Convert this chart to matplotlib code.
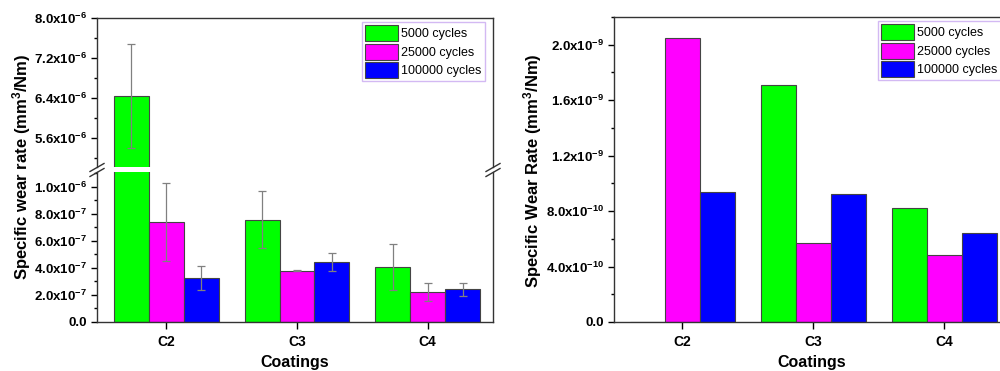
import matplotlib
matplotlib.use('Agg')
import matplotlib.pyplot as plt
import numpy as np
from matplotlib.ticker import FuncFormatter, MultipleLocator
from matplotlib.lines import Line2D

plt.rcParams['font.family'] = ['Liberation Sans', 'DejaVu Sans']
plt.rcParams['mathtext.fontset'] = 'custom'
plt.rcParams['mathtext.rm'] = 'Liberation Sans:bold'
plt.rcParams['mathtext.bf'] = 'Liberation Sans:bold'
plt.rcParams['mathtext.it'] = 'Liberation Sans:bold'
plt.rcParams['mathtext.default'] = 'bf'

coatings = ['C2', 'C3', 'C4']
series = ['5000 cycles', '25000 cycles', '100000 cycles']
colors = ['#00ff00', '#ff00ff', '#0000ff']

# left panel: specific wear rate with error bars
left_5000 = [6.44e-6, 0.758e-6, 0.407e-6]
left_25000 = [0.738e-6, 0.380e-6, 0.222e-6]
left_100000 = [0.324e-6, 0.442e-6, 0.244e-6]
err_5000 = [1.04e-6, 0.21e-6, 0.17e-6]
err_25000 = [0.29e-6, 0.005e-6, 0.068e-6]
err_100000 = [0.09e-6, 0.068e-6, 0.048e-6]

# right panel
right_5000 = [0.0, 1.708e-9, 0.822e-9]
right_25000 = [2.049e-9, 0.572e-9, 0.483e-9]
right_100000 = [0.935e-9, 0.922e-9, 0.639e-9]

left_vals = [left_5000, left_25000, left_100000]
left_errs = [err_5000, err_25000, err_100000]
right_vals = [right_5000, right_25000, right_100000]

x = np.arange(1, len(coatings) + 1)
w = 0.267
offs = [-w, 0, w]


def sci(v, pos):
    if v == 0:
        return '0.0'
    e = int(np.floor(np.log10(abs(v)) + 1e-9))
    m = v / 10 ** e
    return '%.1fx10$^{%d}$' % (m, e)


def style(ax):
    ax.tick_params(direction='out', length=4, width=1, labelsize=9.5)
    ax.tick_params(which='minor', direction='out', length=2.5, width=1)
    for lbl in ax.get_xticklabels() + ax.get_yticklabels():
        lbl.set_fontweight('bold')
    for s in ax.spines.values():
        s.set_linewidth(1.0)
        s.set_color('#333333')


fig = plt.figure(figsize=(10, 3.71), dpi=100)
W, H = 1000, 371

# left panel, broken axis
axt = fig.add_axes([97 / W, 1 - 167 / H, 396 / W, 149 / H])
axb = fig.add_axes([97 / W, 1 - 322 / H, 396 / W, 150 / H])
for ax in (axt, axb):
    for i in range(3):
        ax.bar(x + offs[i], left_vals[i], w, color=colors[i], edgecolor='#444444',
               linewidth=0.8, label=series[i], zorder=2)
        ax.errorbar(x + offs[i], left_vals[i], yerr=left_errs[i], fmt='none',
                    ecolor='#808080', elinewidth=0.9, capsize=3, capthick=0.9, zorder=3)
    ax.set_xlim(0.47, 3.5)

axt.set_ylim(5.02e-6, 8.0e-6)
axt.yaxis.set_major_locator(MultipleLocator(0.8e-6))
axt.yaxis.set_minor_locator(MultipleLocator(0.4e-6))
axt.yaxis.set_major_formatter(FuncFormatter(sci))
axt.spines['bottom'].set_visible(False)
axt.set_xticks([])

axb.set_ylim(0, 1.11e-6)
axb.yaxis.set_major_locator(MultipleLocator(0.2e-6))
axb.yaxis.set_minor_locator(MultipleLocator(0.1e-6))
axb.yaxis.set_major_formatter(FuncFormatter(sci))
axb.spines['top'].set_visible(False)
axb.set_xticks(x)
axb.set_xticklabels(coatings)
axb.set_xlabel('Coatings', fontsize=11.5, fontweight='bold', labelpad=5)

style(axt)
style(axb)
axb.tick_params(axis='x', length=5, pad=4, labelsize=10)

# break marks
for xb in (97 / W, 493 / W):
    yb = 1 - 170 / H
    for d in (-2.5, 2.5):
        fig.add_artist(Line2D([xb - 7 / W, xb + 7 / W],
                              [yb + (d - 4) / H, yb + (d + 4) / H],
                              color='#333333', lw=1.0))

fig.text(22 / W, 1 - 167 / H, 'Specific wear rate (mm$^{3}$/Nm)', rotation=90,
         ha='center', va='center', fontsize=12, fontweight='bold')

leg = axt.legend(loc='upper left', bbox_to_anchor=(362 / W, 1 - 22 / H),
                 bbox_transform=fig.transFigure, fontsize=9, frameon=True,
                 fancybox=False, handlelength=2.6, handleheight=1.6,
                 handletextpad=0.3, labelspacing=0.2, borderpad=0.25,
                 borderaxespad=0)
leg.get_frame().set_edgecolor('#c8a8f0')
leg.get_frame().set_linewidth(1.0)

# right panel
axr = fig.add_axes([614 / W, 1 - 322 / H, 396 / W, 305 / H])
for i in range(3):
    axr.bar(x + offs[i], right_vals[i], w, color=colors[i], edgecolor='#444444',
            linewidth=0.8, label=series[i], zorder=2)
axr.set_xlim(0.48, 3.5)
axr.set_ylim(0, 2.2e-9)
axr.yaxis.set_major_locator(MultipleLocator(0.4e-9))
axr.yaxis.set_minor_locator(MultipleLocator(0.2e-9))
axr.yaxis.set_major_formatter(FuncFormatter(sci))
axr.set_xticks(x)
axr.set_xticklabels(coatings)
axr.set_xlabel('Coatings', fontsize=11.5, fontweight='bold', labelpad=5)
style(axr)
axr.tick_params(axis='x', length=5, pad=4, labelsize=10)

fig.text(533 / W, 1 - 171 / H, 'Specific Wear Rate (mm$^{3}$/Nm)', rotation=90,
         ha='center', va='center', fontsize=12, fontweight='bold')

leg2 = axr.legend(loc='upper left', bbox_to_anchor=(878 / W, 1 - 21 / H),
                  bbox_transform=fig.transFigure, fontsize=9, frameon=True,
                  fancybox=False, handlelength=2.6, handleheight=1.6,
                  handletextpad=0.3, labelspacing=0.2, borderpad=0.25,
                  borderaxespad=0)
leg2.get_frame().set_edgecolor('#c8a8f0')
leg2.get_frame().set_linewidth(1.0)

fig.savefig('out.png', dpi=100)
